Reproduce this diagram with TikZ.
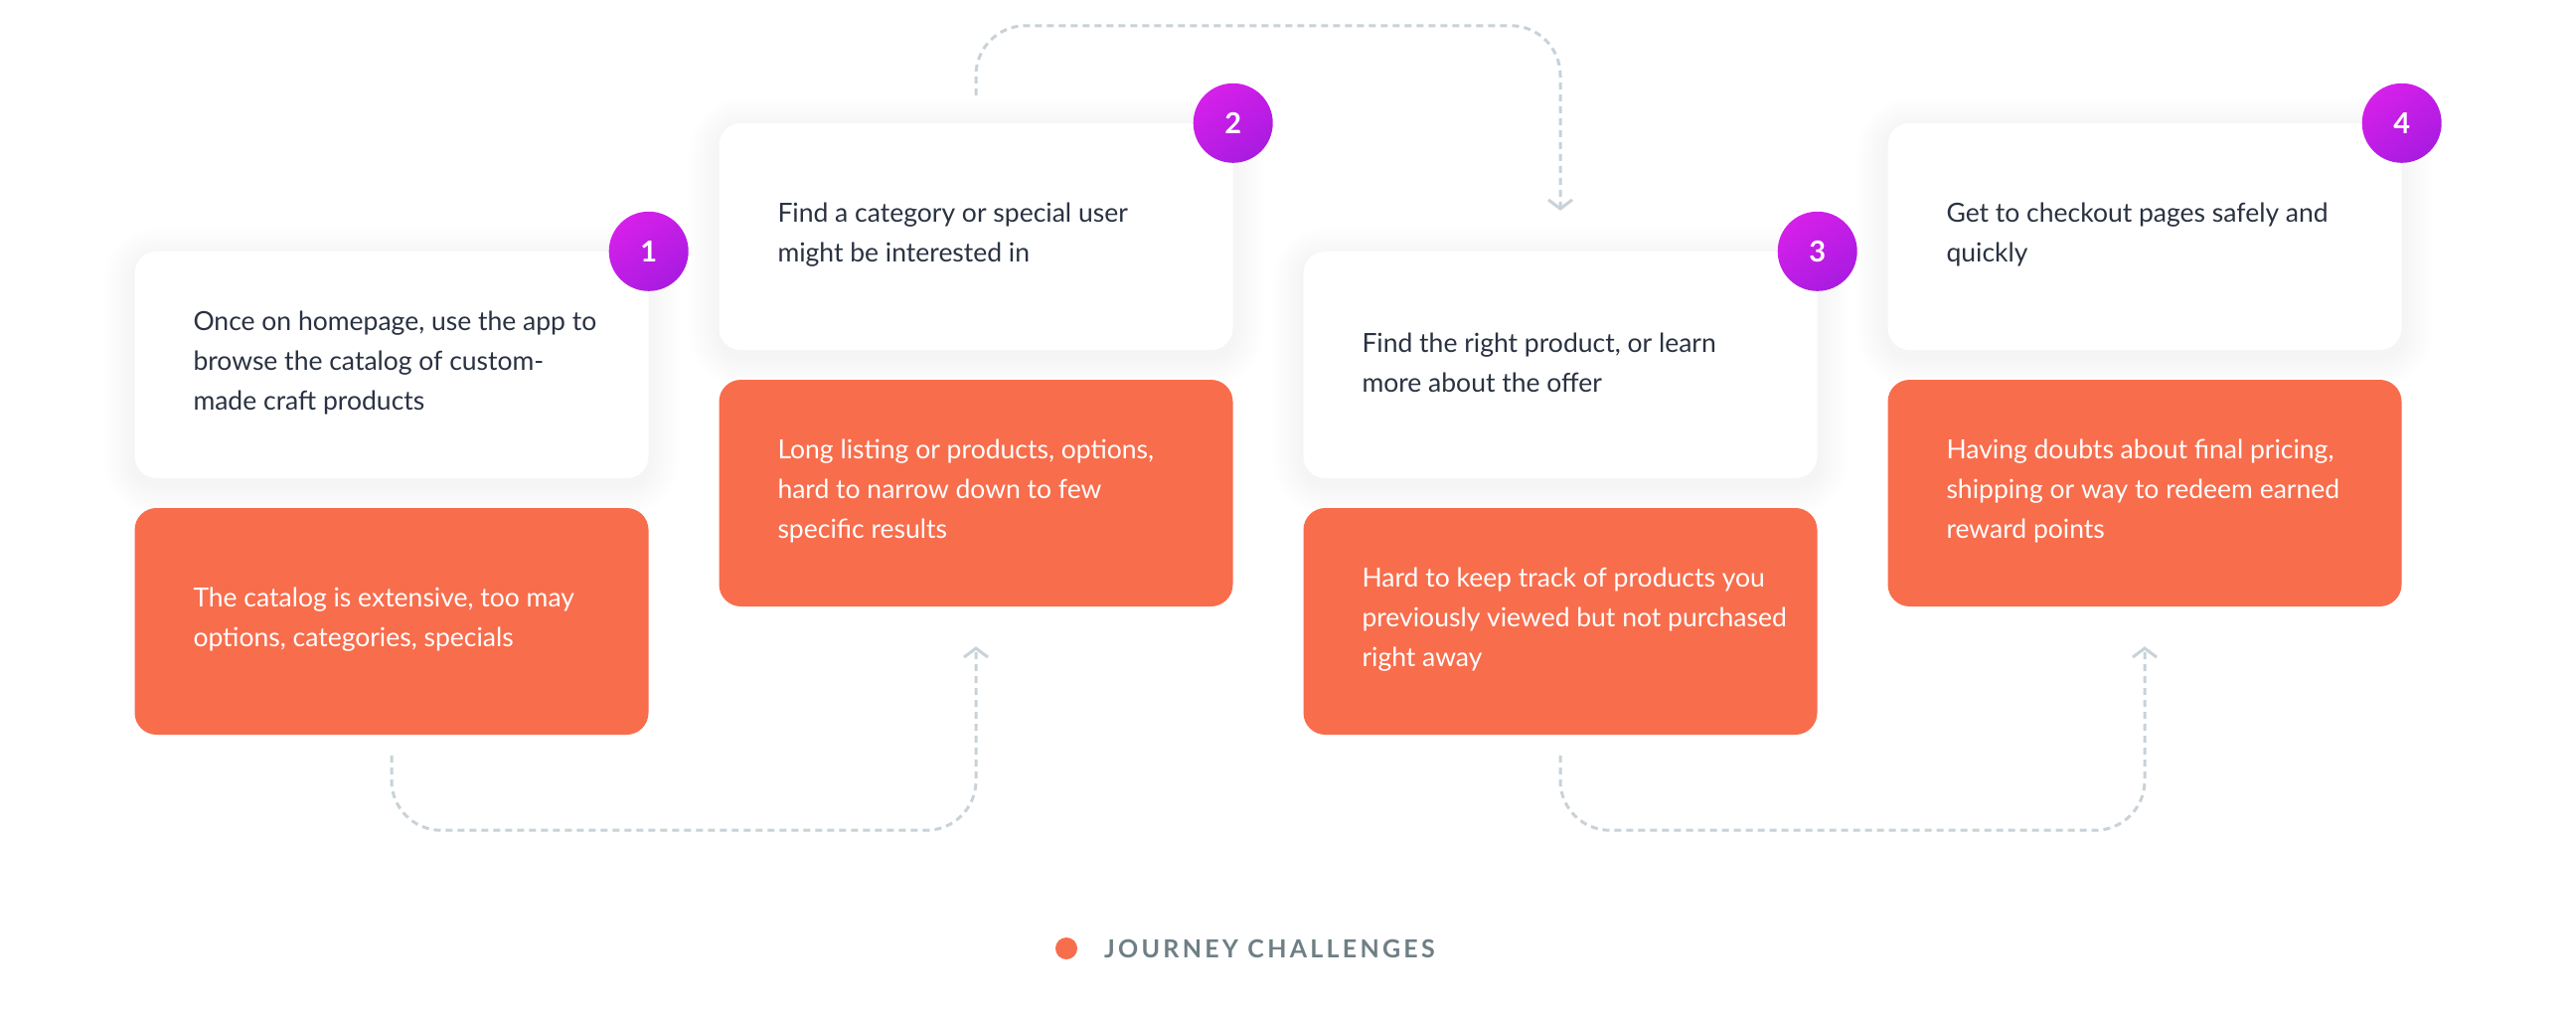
\documentclass[tikz,border=0pt]{standalone}
\usepackage{fontspec}
\setmainfont{Lato}
\newfontfamily\legendfont[LetterSpace=13]{Lato}
\usetikzlibrary{arrows.meta,calc}
\definecolor{orangec}{HTML}{F86D4C}
\definecolor{darktext}{HTML}{2A3242}
\definecolor{connc}{HTML}{C8D2D8}
\definecolor{badgeA}{HTML}{D620EA}
\definecolor{badgeB}{HTML}{A91BE0}
\definecolor{legendc}{HTML}{6E7F85}
\pgfdeclarelayer{bg}
\pgfdeclarelayer{shadow}
\pgfsetlayers{bg,shadow,main}
\begin{document}
\begin{tikzpicture}[x=1pt,y=-1pt,
  card/.style={minimum width=517pt, minimum height=228pt, rounded corners=22pt, inner sep=0pt},
  whitecard/.style={card, fill=white},
  orangecard/.style={card, fill=orangec},
  cardtext/.style={anchor=west, align=left, inner sep=0pt, font=\fontsize{26.5}{40}\selectfont},
  darkt/.style={cardtext, text=darktext},
  lightt/.style={cardtext, text=white},
  badge/.style={circle, minimum size=80pt, inner sep=0pt, top color=badgeA, bottom color=badgeB, shading angle=35, text=white, font=\fontsize{29}{29}\selectfont\bfseries},
  conn/.style={draw=connc, line width=3pt, dash pattern=on 7pt off 5pt, rounded corners=50pt},
  arr/.style={-{Straight Barb[length=9pt,width=24pt,line width=3pt]}}
]
\begin{pgfonlayer}{bg}
\fill[white] (0,0) rectangle (2592,1025);
\end{pgfonlayer}
\useasboundingbox (0,0) rectangle (2592,1025);

% cards
\node[whitecard] (w1) at (394,367) {};
\node[orangecard] (o1) at (394,625) {};
\node[whitecard] (w2) at (982,238) {};
\node[orangecard] (o2) at (982,496) {};
\node[whitecard] (w3) at (1570,367) {};
\node[orangecard] (o3) at (1570,625) {};
\node[whitecard] (w4) at (2158,238) {};
\node[orangecard] (o4) at (2158,496) {};

% shadows
\begin{pgfonlayer}{shadow}
\foreach \c in {w1,w2,w3,w4}{
  \foreach \i in {1,...,10}{
    \fill[black, opacity=0.005, rounded corners={22pt+\i*3pt}]
      ($(\c.north west)+(-\i*3,-\i*3+6)$) rectangle ($(\c.south east)+(\i*3,\i*3+6)$);
  }
}
\end{pgfonlayer}

% texts
\node[darkt] (t1) at ($(w1.west)+(59,-2)$) {Once on homepage, use the app to\\browse the catalog of custom-\\made craft products};
\node[lightt] (u1) at ($(o1.west)+(59,-2)$) {The catalog is extensive, too may\\options, categories, specials};
\node[darkt] (t2) at ($(w2.west)+(59,-2)$) {Find a category or special user\\might be interested in};
\node[lightt] (u2) at ($(o2.west)+(59,-2)$) {Long listing or products, options,\\hard to narrow down to few\\specific results};
\node[darkt] (t3) at ($(w3.west)+(59,-2)$) {Find the right product, or learn\\more about the offer};
\node[lightt] (u3) at ($(o3.west)+(59,-2)$) {Hard to keep track of products you\\previously viewed but not purchased\\right away};
\node[darkt] (t4) at ($(w4.west)+(59,-2)$) {Get to checkout pages safely and\\quickly};
\node[lightt] (u4) at ($(o4.west)+(59,-2)$) {Having doubts about final pricing,\\shipping or way to redeem earned\\reward points};

% badges
\node[badge] (b1) at (w1.north east) {1};
\node[badge] (b2) at (w2.north east) {2};
\node[badge] (b3) at (w3.north east) {3};
\node[badge] (b4) at (w4.north east) {4};

% connectors
\coordinate (s1) at ($(o1.south)+(0,21)$);
\coordinate (e1) at ($(o2.south)+(0,40)$);
\draw[conn,arr] (s1) |- ($(e1)+(0,185)$) -- (e1);
\coordinate (s2) at ($(w2.north)+(0,-28)$);
\coordinate (e2) at ($(w3.north)+(0,-41)$);
\draw[conn,arr] (s2) |- ($(e2)+(0,-186)$) -- (e2);
\coordinate (s3) at ($(o3.south)+(0,21)$);
\coordinate (e3) at ($(o4.south)+(0,40)$);
\draw[conn,arr] (s3) |- ($(e3)+(0,185)$) -- (e3);

% legend
\node[circle, fill=orangec, minimum size=22pt, inner sep=0pt] (ldot) at (1073,954) {};
\node[anchor=west, inner sep=0pt, text=legendc, font=\legendfont\bfseries\fontsize{25}{25}\selectfont] (ltext) at (1111,954) {JOURNEY CHALLENGES};
\end{tikzpicture}
\end{document}
